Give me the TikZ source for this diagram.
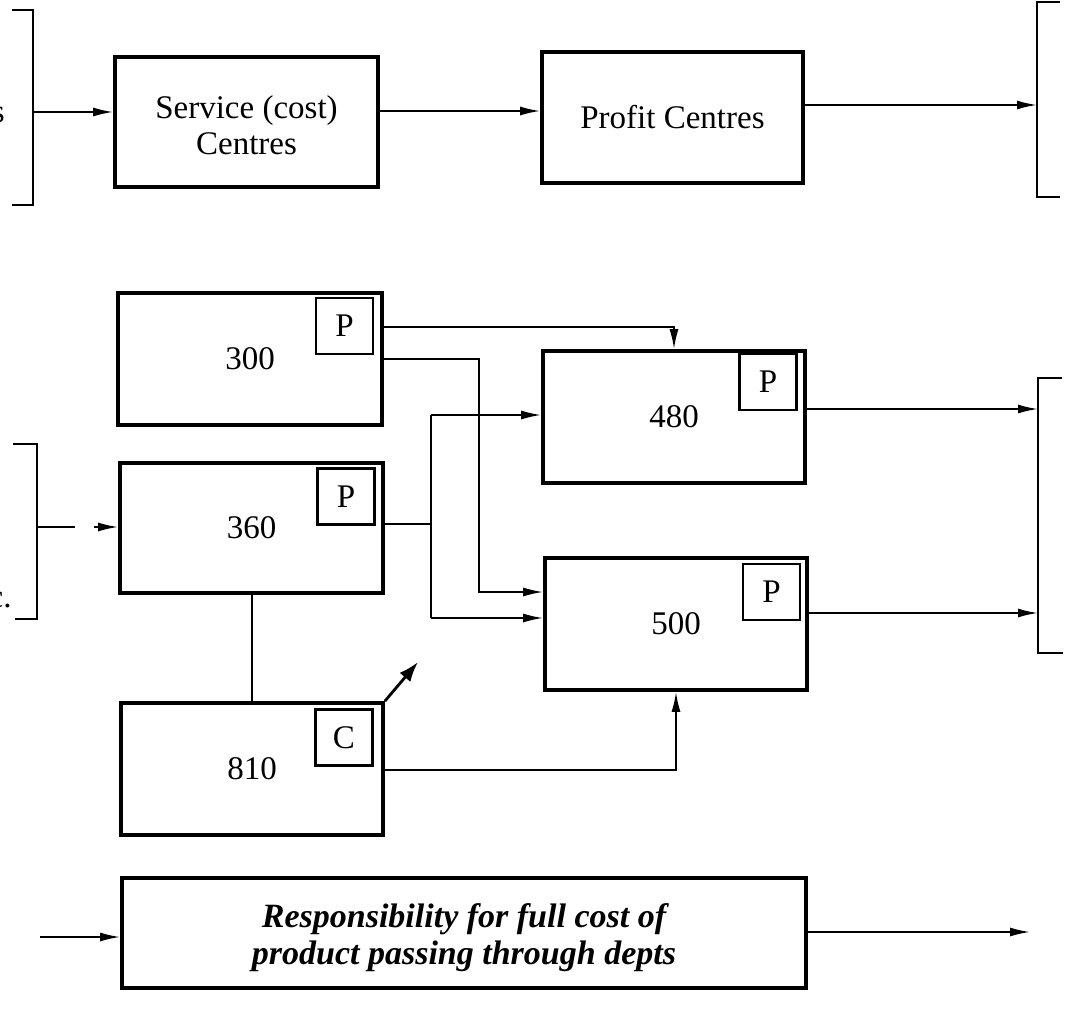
\documentclass[tikz,border=0pt]{standalone}
\usepackage{fontspec}
\setmainfont{Liberation Serif}
\usetikzlibrary{arrows.meta}
\begin{document}
\begin{tikzpicture}[x=0.5pt,y=-0.5pt,
  box/.style={draw,line width=1.9pt,inner sep=0pt,font=\fontsize{16.5}{18}\selectfont,align=center},
  tag/.style={draw,line width=1.1pt,minimum width=28.5pt,minimum height=28pt,inner sep=0pt,font=\fontsize{16.5}{17}\selectfont},
  conn/.style={line width=0.9pt},
  arr/.style={line width=0.9pt,-{Latex[length=10pt,width=4.5pt]}},
  brk/.style={line width=1.1pt},
  frag/.style={inner sep=0pt,font=\fontsize{16.5}{17}\selectfont}]
\useasboundingbox (0,0) rectangle (1070,1022);
% brackets
\draw[brk] (12,10) -- (33,10) -- (33,205) -- (12,205);
\draw[brk] (1060,2) -- (1037,2) -- (1037,197) -- (1060,197);
\draw[brk] (13,444) -- (37,444) -- (37,619) -- (15,619);
\draw[brk] (1062,378) -- (1038,378) -- (1038,653) -- (1063,653);
\node[frag,anchor=base east] (fs) at (5,122) {s};
\node[frag,anchor=base east] (fc) at (12,607) {c.};
% top row
\node[box,minimum width=131.5pt,minimum height=65pt] (svc) at (246.5,122) {};
\node[inner sep=0pt,align=center,font=\fontsize{16.5}{18}\selectfont] (svctext) at (246.5,125) {Service (cost)\\Centres};
\node[box,minimum width=130.5pt,minimum height=65.5pt] (prof) at (672.5,117.5) {Profit Centres};
\coordinate (tl) at (33,112);
\coordinate (tr) at (1037,105);
\draw[arr] (tl) -- (tl -| svc.west);
\draw[arr] (svc.east |- 0,111) -- (prof.west |- 0,111);
\draw[arr] (prof.east |- tr) -- (tr);
% department boxes
\node[box,minimum width=132pt,minimum height=66pt] (b300) at (250,359) {300};
\node[box,minimum width=131.5pt,minimum height=65pt] (b360) at (251.5,528) {360};
\node[box,minimum width=131pt,minimum height=66pt] (b480) at (674,417) {480};
\node[box,minimum width=131pt,minimum height=66pt] (b500) at (676,624) {500};
\node[box,minimum width=131pt,minimum height=66pt] (b810) at (252,769) {810};
\node[tag] (p300) at (344.5,326) {P};
\node[tag] (p360) at (346,496.5) {P};
\node[tag] (p480) at (768,382) {P};
\node[tag] (p500) at (771.5,592) {P};
\node[tag] (c810) at (344,737.5) {C};
% connectors
\draw[arr] (b300.east |- 0,327) -| (b480.north);
\draw[arr] (b300.east) -| (479,592) -- (b500.west |- 0,592);
\draw[conn] (b360.east |- 0,524) -- (431,524);
\draw[conn] (431,415) -- (431,618);
\draw[arr] (431,415) -- (b480.west |- 0,415);
\draw[arr] (431,618) -- (b500.west |- 0,618);
\coordinate (ml) at (37,527);
\draw[conn] (ml) -- (75,527);
\draw[arr] (94,527) -- (b360.west |- ml);
\draw[conn] (b810.north) -- (b810.north |- b360.south);
\coordinate (diag) at (418,662);
\draw[line width=1.4pt,-{Latex[length=10pt,width=7pt]}] (b810.north east) -- (diag);
\draw[arr] (b810.east |- 0,770) -| (b500.south);
\coordinate (mr1) at (1038,409);
\coordinate (mr2) at (1038,613);
\draw[arr] (b480.east |- mr1) -- (mr1);
\draw[arr] (b500.east |- mr2) -- (mr2);
% bottom
\node[box,minimum width=342pt,minimum height=55pt] (resp) at (464,933) {};
\node[inner sep=0pt,align=center,font=\fontsize{17}{18.5}\selectfont\bfseries\itshape] (resptext) at (464,938) {Responsibility for full cost of\\product passing through depts};
\coordinate (rin) at (40,937);
\coordinate (rout) at (1030,932);
\draw[arr] (rin) -- (resp.west |- rin);
\draw[arr] (resp.east |- rout) -- (rout);
\end{tikzpicture}
\end{document}
